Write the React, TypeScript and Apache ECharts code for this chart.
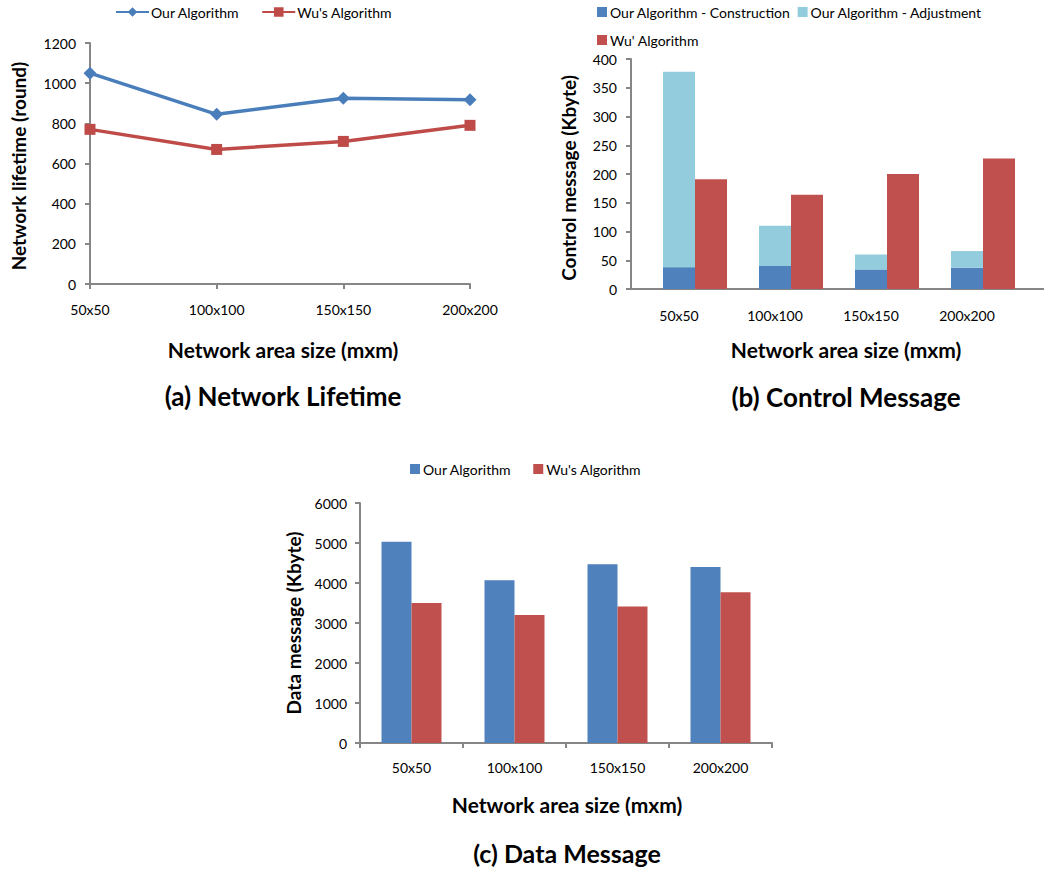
import React, { useEffect, useRef } from "react";
import * as echarts from "echarts";

const categories = ["50x50", "100x100", "150x150", "200x200"];
const lifetimeOurs = [1050, 845, 925, 918];
const lifetimeWu = [770, 670, 710, 790];
const ctrlConstruction = [38, 40, 34, 37];
const ctrlAdjustment = [340, 70, 26, 29];
const ctrlWu = [191, 164, 200, 227];
const dataOurs = [5030, 4070, 4470, 4400];
const dataWu = [3500, 3200, 3410, 3770];

const FONT = "Lato, 'Open Sans', sans-serif";
const BLUE = "#4F81BD";
const RED = "#C0504D";
const LIGHT = "#93CDDD";
const AXIS = "#868686";

const axisLine = { show: true, lineStyle: { color: AXIS, width: 2 } };
const labelStyle = { color: "#000", fontFamily: FONT, fontSize: 14 };
const plain = (v: number) => String(v);

function txt(text: string, x: number, y: number, size: number, rotate = false) {
  return {
    type: "text",
    x,
    y,
    rotation: rotate ? Math.PI / 2 : 0,
    silent: true,
    style: {
      text,
      font: `bold ${size}px ${FONT}`,
      fill: "#000",
      textAlign: "center",
      textVerticalAlign: "middle",
    },
  };
}

function Chart({ option, style }: { option: any; style: React.CSSProperties }) {
  const ref = useRef<HTMLDivElement>(null);
  useEffect(() => {
    if (!ref.current) return;
    const chart = echarts.init(ref.current, undefined, { renderer: "svg" });
    chart.setOption(option);
    return () => chart.dispose();
  }, []);
  return <div ref={ref} style={{ position: "absolute", ...style }} />;
}

const optionA = {
  animation: false,
  grid: { left: 90, top: 43, width: 380, height: 241 },
  legend: {
    left: 110,
    top: 0,
    itemWidth: 33,
    itemHeight: 12,
    itemGap: 22,
    textStyle: { ...labelStyle, padding: [0, 0, 0, -3] },
    data: ["Our Algorithm", "Wu's Algorithm"],
  },
  xAxis: {
    type: "category",
    data: categories,
    boundaryGap: false,
    axisLine,
    axisTick: { show: true, length: 5, lineStyle: { color: AXIS, width: 2 } },
    axisLabel: { ...labelStyle, margin: 18 },
  },
  yAxis: {
    type: "value",
    min: 0,
    max: 1200,
    interval: 200,
    axisLine,
    axisTick: { show: true, length: 5, lineStyle: { color: AXIS, width: 2 } },
    axisLabel: { ...labelStyle, margin: 14, formatter: plain },
    splitLine: { show: false },
  },
  series: [
    {
      name: "Our Algorithm",
      type: "line",
      data: lifetimeOurs,
      symbol: "diamond",
      symbolSize: 13,
      color: "#4A7EBB",
      lineStyle: { width: 3.5, color: "#4A7EBB" },
      itemStyle: { color: "#4A7EBB" },
    },
    {
      name: "Wu's Algorithm",
      type: "line",
      data: lifetimeWu,
      symbol: "rect",
      symbolSize: 11,
      color: "#BE4B48",
      lineStyle: { width: 3.5, color: "#BE4B48" },
      itemStyle: { color: "#BE4B48" },
    },
  ],
  graphic: [
    txt("Network lifetime (round)", 18, 166, 19, true),
    txt("Network area size (mxm)", 283, 349, 21),
    txt("(a) Network Lifetime", 283, 396, 26),
  ],
};

const optionB = {
  animation: false,
  grid: { left: 109, top: 59, width: 384, height: 230 },
  legend: [
    {
      left: 70,
      top: 0,
      itemWidth: 10,
      itemHeight: 10,
      itemGap: 7,
      icon: "rect",
      textStyle: { ...labelStyle, padding: [0, 0, 0, -2] },
      data: ["Our Algorithm - Construction", "Our Algorithm - Adjustment"],
    },
    {
      left: 70,
      top: 28,
      itemWidth: 10,
      itemHeight: 10,
      icon: "rect",
      textStyle: { ...labelStyle, padding: [0, 0, 0, -2] },
      data: ["Wu' Algorithm"],
    },
  ],
  xAxis: {
    type: "category",
    data: categories,
    axisLine,
    axisTick: { show: false },
    axisLabel: { ...labelStyle, margin: 19 },
  },
  yAxis: {
    type: "value",
    min: 0,
    max: 400,
    interval: 50,
    axisLine,
    axisTick: { show: true, length: 5, lineStyle: { color: AXIS, width: 2 } },
    axisLabel: { ...labelStyle, margin: 14, formatter: plain },
    splitLine: { show: false },
  },
  series: [
    { name: "pad", type: "bar", data: [], barWidth: 32, barGap: "0%" },
    {
      name: "Our Algorithm - Construction",
      type: "bar",
      stack: "ours",
      data: ctrlConstruction,
      barWidth: 32,
      barGap: "0%",
      itemStyle: { color: BLUE },
    },
    {
      name: "Our Algorithm - Adjustment",
      type: "bar",
      stack: "ours",
      data: ctrlAdjustment,
      barWidth: 32,
      barGap: "0%",
      itemStyle: { color: LIGHT },
    },
    {
      name: "Wu' Algorithm",
      type: "bar",
      data: ctrlWu,
      barWidth: 32,
      barGap: "0%",
      itemStyle: { color: RED },
    },
  ],
  graphic: [
    {
      type: "line",
      silent: true,
      shape: { x1: 493, y1: 289, x2: 522, y2: 289 },
      style: { stroke: AXIS, lineWidth: 2 },
    },
    txt("Control message (Kbyte)", 46, 178, 19, true),
    txt("Network area size (mxm)", 324, 349, 21),
    txt("(b) Control Message", 324, 397, 26),
  ],
};

const optionC = {
  animation: false,
  grid: { left: 100, top: 63, width: 412, height: 240 },
  legend: {
    left: 145,
    top: 17,
    itemWidth: 10,
    itemHeight: 10,
    itemGap: 22,
    icon: "rect",
    textStyle: { ...labelStyle, padding: [0, 0, 0, -2] },
    data: ["Our Algorithm", "Wu's Algorithm"],
  },
  xAxis: {
    type: "category",
    data: categories,
    axisLine,
    axisTick: { show: true, length: 5, lineStyle: { color: AXIS, width: 2 } },
    axisLabel: { ...labelStyle, margin: 17 },
  },
  yAxis: {
    type: "value",
    min: 0,
    max: 6000,
    interval: 1000,
    axisLine,
    axisTick: { show: true, length: 5, lineStyle: { color: AXIS, width: 2 } },
    axisLabel: { ...labelStyle, margin: 13, formatter: plain },
    splitLine: { show: false },
  },
  series: [
    {
      name: "Our Algorithm",
      type: "bar",
      data: dataOurs,
      barWidth: 30,
      barGap: "0%",
      itemStyle: { color: BLUE },
    },
    {
      name: "Wu's Algorithm",
      type: "bar",
      data: dataWu,
      barWidth: 30,
      barGap: "0%",
      itemStyle: { color: RED },
    },
  ],
  graphic: [
    txt("Data message (Kbyte)", 33, 183, 19, true),
    txt("Network area size (mxm)", 307, 364, 21),
    txt("(c) Data Message", 307, 413, 25),
  ],
};

export default function App() {
  return (
    <div style={{ position: "fixed", left: 0, top: 0, width: 1044, height: 870, background: "#fff" }}>
      <Chart option={optionA} style={{ left: 0, top: 0, width: 522, height: 420 }} />
      <Chart option={optionB} style={{ left: 522, top: 0, width: 522, height: 420 }} />
      <Chart option={optionC} style={{ left: 260, top: 440, width: 524, height: 430 }} />
    </div>
  );
}
